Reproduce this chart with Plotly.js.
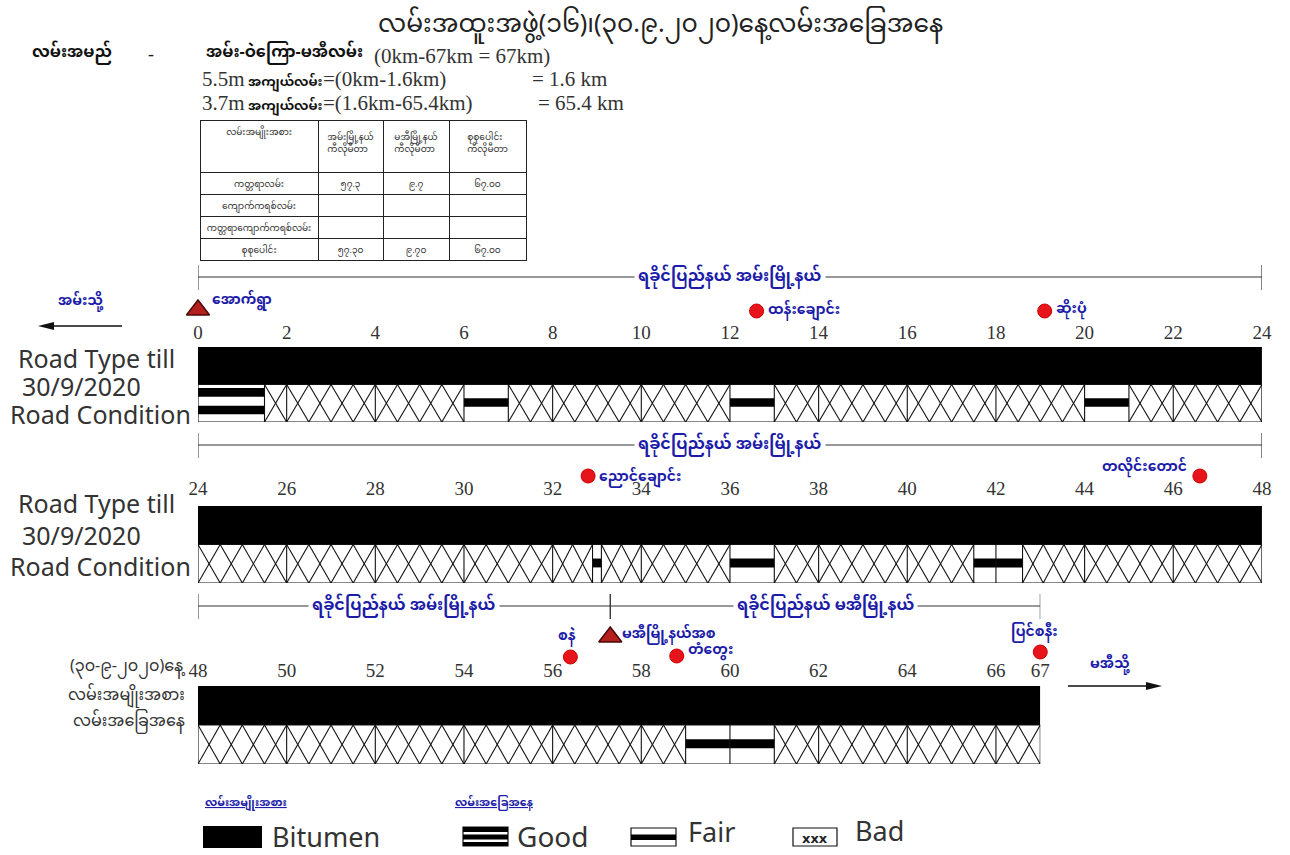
<!DOCTYPE html>
<html><head><meta charset="utf-8">
<script src="https://cdn.plot.ly/plotly-3.0.1.min.js"></script>
<style>html,body{margin:0;padding:0;background:#fff}#chart{width:1290px;height:855px}</style>
</head><body><div id="chart"></div>
<script>
// ---------------- DATA ----------------
const stripFrom = [0, 24, 48];
const stripTo = [24, 48, 67];
const tickKm1 = [0, 2, 4, 6, 8, 10, 12, 14, 16, 18, 20, 22, 24];
const tickKm2 = [24, 26, 28, 30, 32, 34, 36, 38, 40, 42, 44, 46, 48];
const tickKm3 = [48, 50, 52, 54, 56, 58, 60, 62, 64, 66, 67];

const roadTypeName = ['Bitumen'];
const roadTypeFrom = [0];
const roadTypeTo = [67];

const condFrom = [0, 1.5, 6, 7, 12, 13, 20, 21, 32.9, 33.1, 36, 37, 41.5, 42.6, 59, 61];
const condTo   = [1.5, 6, 7, 12, 13, 20, 21, 32.9, 33.1, 36, 37, 41.5, 42.6, 59, 61, 67];
const condType = ['Good','Bad','Fair','Bad','Fair','Bad','Fair','Bad','Fair','Bad','Fair','Bad','Fair','Bad','Fair','Bad'];

const townshipName = ['ရခိုင်ပြည်နယ် အမ်းမြို့နယ်', 'ရခိုင်ပြည်နယ် မအီမြို့နယ်'];
const townshipFrom = [0, 57.3];
const townshipTo = [57.3, 67];

const placeName = ['အောက်ရွာ', 'ထန်းချောင်း', 'ဆိုးပုံ', 'ညောင်ချောင်း', 'တလိုင်းတောင်', 'စနဲ', 'မအီမြို့နယ်အစ', 'တံတွေး', 'ပြင်စနီး'];
const placeKm = [0, 12.6, 19.1, 32.8, 46.6, 56.4, 57.3, 58.8, 67];
const placeKind = ['boundary', 'village', 'village', 'village', 'village', 'village', 'boundary', 'village', 'village'];

const tableHeader = ['လမ်းအမျိုးအစား', 'အမ်းမြို့နယ်<br>ကီလိုမီတာ', 'မအီမြို့နယ်<br>ကီလိုမီတာ', 'စုစုပေါင်း<br>ကီလိုမီတာ'];
const tableRowName = ['ကတ္တရာလမ်း', 'ကျောက်ကရစ်လမ်း', 'ကတ္တရာကျောက်ကရစ်လမ်း', 'စုစုပေါင်း'];
const tableAnn = ['၅၇.၃', '', '', '၅၇.၃၀'];
const tableMaei = ['၉.၇', '', '', '၉.၇၀'];
const tableTotal = ['၆၇.၀၀', '', '', '၆၇.၀၀'];

// ---------------- LAYOUT CONSTANTS ----------------
const W = 1290, H = 855, X0 = 198, PXKM = 44.33;
const geo = [
  {B: 422, U: 37.5, T: 256, head: 277, standoff: 4},
  {B: 583, U: 38.5, T: 428, head: 445, standoff: 7},
  {B: 764, U: 39.0, T: 588, head: 606, standoff: 5}
];
const placeYpx = [310, 311, 311, 476, 476, 657, 637, 656, 652];
const placeLabel = [ // [xshift, yshift, xanchor]
  [12, 10, 'left'], [9, 1, 'left'], [9, 2, 'left'], [9, -1, 'left'], [-11, 9, 'right'],
  [-3, 21, 'center'], [10, 3, 'left'], [9, 6, 'left'], [-6, 20, 'center']
];
const BLUE = '#1c1ca8', RED = '#e8141c';
const MY = 'Noto Sans Myanmar, Padauk, Myanmar Text, Noto Sans, sans-serif';
const tickSets = [tickKm1, tickKm2, tickKm3];

const px = v => v / W;
const py = v => 1 - v / H;

const traces = [];
const annotations = [];
const shapes = [];
const layout = {
  width: W, height: H, margin: {l: 0, r: 0, t: 0, b: 0},
  paper_bgcolor: '#fff', plot_bgcolor: 'rgba(0,0,0,0)',
  showlegend: false, barmode: 'overlay', hovermode: false,
  font: {family: MY, color: '#222'}
};

stripFrom.forEach((s0, i) => {
  const s1 = stripTo[i];
  const g = geo[i];
  const xa = i === 0 ? 'x' : 'x' + (i + 1);
  const ya = i === 0 ? 'y' : 'y' + (i + 1);
  const yOf = p => (g.B - p) / g.U;
  layout[xa.replace('x', 'xaxis')] = {
    domain: [px(X0), px(X0 + (s1 - s0) * PXKM)], range: [s0, s1],
    anchor: 'free', position: py(g.B - 2 * g.U), side: 'top',
    tickmode: 'array', tickvals: tickSets[i], ticktext: tickSets[i].map(String),
    tickfont: {family: 'Liberation Serif, serif', size: 19, color: '#333'}, ticklabelstandoff: g.standoff,
    ticks: '', showgrid: false, zeroline: false, showline: false, fixedrange: true
  };
  layout[ya.replace('y', 'yaxis')] = {
    domain: [py(g.B), py(g.T)], range: [0, (g.B - g.T) / g.U],
    visible: false, fixedrange: true
  };
  const clip = (a, b) => [Math.max(a, s0), Math.min(b, s1)];

  // road type row
  const rb = [], rl = [];
  roadTypeFrom.forEach((f, k) => { const [a, b] = clip(f, roadTypeTo[k]); if (b > a) { rb.push(a); rl.push(b - a); } });
  traces.push({type: 'bar', orientation: 'h', y: rb.map(() => 1.5), x: rl, base: rb, width: rb.map(() => 1),
    marker: {color: '#000', line: {width: 0}}, xaxis: xa, yaxis: ya, hoverinfo: 'skip'});

  // condition bands
  const bandB = [], bandL = [], bandY = [];
  const roadEnd = Math.min(s1, Math.max(...condTo));
  const lx = [], ly = [];
  const seg = (x1, y1, x2, y2) => { lx.push(x1, x2, null); ly.push(y1, y2, null); };
  seg(s0, 0, roadEnd, 0); seg(s0, 1, roadEnd, 1);
  const divs = new Set([s0, roadEnd]);
  for (let k = Math.ceil(s0 / 2) * 2; k <= roadEnd; k += 2) divs.add(k);
  condFrom.forEach((f, k) => {
    const [a, b] = clip(f, condTo[k]);
    if (b <= a) return;
    divs.add(a); divs.add(b);
    if (condType[k] === 'Fair') { bandB.push(a); bandL.push(b - a); bandY.push(0.52); }
    if (condType[k] === 'Good') { [0.79, 0.32].forEach(yy => { bandB.push(a); bandL.push(b - a); bandY.push(yy); }); }
    if (condType[k] === 'Bad') {
      const br = [a];
      for (let e = Math.floor(a / 2) * 2 + 2; e < b; e += 2) if (e > a) br.push(e);
      br.push(b);
      for (let j = 0; j < br.length - 1; j++) {
        const len = br[j + 1] - br[j];
        const n = Math.max(1, Math.round(len / 0.5));
        const w = len / n;
        for (let c = 0; c < n; c++) {
          const c0 = br[j] + c * w, c1 = c0 + w;
          seg(c0, 0, c1, 1); seg(c0, 1, c1, 0);
        }
      }
    }
  });
  divs.forEach(d => seg(d, 0, d, 1));
  traces.push({type: 'bar', orientation: 'h', y: bandY, x: bandL, base: bandB, width: bandY.map(() => 0.23),
    marker: {color: '#000', line: {width: 0}}, xaxis: xa, yaxis: ya, hoverinfo: 'skip'});
  traces.push({type: 'scatter', mode: 'lines', x: lx, y: ly, line: {color: '#111', width: 1.1},
    xaxis: xa, yaxis: ya, hoverinfo: 'skip', connectgaps: false, cliponaxis: false});

  // township header lines
  const hx = [], hy = [];
  const yH = yOf(g.head), tUp = yOf(g.head - 12), tDn = yOf(g.head + 13);
  townshipFrom.forEach((f, k) => {
    const [a, b] = clip(f, townshipTo[k]);
    if (b <= a) return;
    hx.push(a, b, null, a, a, null, b, b, null);
    hy.push(yH, yH, null, tUp, tDn, null, tUp, tDn, null);
    annotations.push({xref: xa, yref: ya, x: (a + b) / 2, y: yH, text: '<b>' + townshipName[k] + '</b>',
      showarrow: false, bgcolor: '#fff', borderpad: 3, font: {family: MY, size: 16, color: BLUE}});
  });
  traces.push({type: 'scatter', mode: 'lines', x: hx, y: hy, line: {color: '#333', width: 1},
    xaxis: xa, yaxis: ya, hoverinfo: 'skip', cliponaxis: false});

  // places
  const vx = [], vy = [], tx = [], ty = [];
  placeKm.forEach((km, k) => {
    if (km < s0 || km > s1 || (km === s0 && i > 0)) return;
    const yy = yOf(placeYpx[k]);
    if (placeKind[k] === 'village') { vx.push(km); vy.push(yy); } else { tx.push(km); ty.push(yy); }
    const [xs, ys, anc] = placeLabel[k];
    annotations.push({xref: xa, yref: ya, x: km, y: yy, xshift: xs, yshift: ys, xanchor: anc,
      text: '<b>' + placeName[k] + '</b>', showarrow: false, font: {family: MY, size: 14, color: BLUE}});
  });
  traces.push({type: 'scatter', mode: 'markers', x: vx, y: vy, xaxis: xa, yaxis: ya, hoverinfo: 'skip', cliponaxis: false,
    marker: {symbol: 'circle', size: 14, color: RED, line: {color: '#c00', width: 1}}});
  traces.push({type: 'scatter', mode: 'markers', x: tx, y: ty, xaxis: xa, yaxis: ya, hoverinfo: 'skip', cliponaxis: false,
    marker: {symbol: 'triangle-up', size: 20, color: '#b3201e', line: {color: '#4a0a0a', width: 1.5}}});
});

// table
traces.push({
  type: 'table', domain: {x: [px(200), px(526)], y: [py(264), py(120)]},
  columnwidth: [118, 65, 66, 77],
  header: {values: tableHeader, height: 52, align: 'center', line: {color: '#222', width: 1},
    fill: {color: '#fff'}, font: {family: MY, size: 9, color: '#333'}},
  cells: {values: [tableRowName, tableAnn, tableMaei, tableTotal], height: 22, align: 'center',
    line: {color: '#222', width: 1}, fill: {color: '#fff'}, font: {family: MY, size: 9, color: '#333'}}
});

// texts
const txt = (x, y, text, opt) => annotations.push(Object.assign({xref: 'paper', yref: 'paper', x: px(x), y: py(y),
  text, showarrow: false, xanchor: 'left', yanchor: 'middle'}, opt || {}));
txt(660, 27, 'လမ်းအထူးအဖွဲ့(၁၆)၊(၃၀.၉.၂၀၂၀)နေ့လမ်းအခြေအနေ', {xanchor: 'center', font: {family: MY, size: 25, color: '#222'}});
txt(30, 53, '<b>လမ်းအမည်</b>', {font: {family: MY, size: 16, color: '#111'}});
txt(146, 54, '-', {font: {family: 'Liberation Serif', size: 18, color: '#222'}});
txt(204, 54, '<b>အမ်း-ဝဲကြော-မအီလမ်း</b>', {font: {family: MY, size: 16, color: '#111'}});
const SER = {family: 'Liberation Serif, serif', size: 21, color: '#333'};
txt(372, 56, '(0km-67km = 67km)', {font: SER});
txt(200, 79, '5.5m', {font: SER});
txt(246, 80, '<b>အကျယ်လမ်း</b>', {font: {family: MY, size: 13, color: '#111'}, yshift: -3});
txt(321, 79, '=(0km-1.6km)', {font: SER});
txt(530, 79, '= 1.6 km', {font: SER});
txt(200, 103, '3.7m', {font: SER});
txt(246, 104, '<b>အကျယ်လမ်း</b>', {font: {family: MY, size: 13, color: '#111'}, yshift: -3});
txt(321, 103, '=(1.6km-65.4km)', {font: SER});
txt(536, 103, '= 65.4 km', {font: SER});

const SANS = {family: 'Noto Sans, Open Sans, sans-serif', size: 25, color: '#333'};
[[358, 386, 414], [503, 535, 566]].forEach(ys => {
  txt(16, ys[0], 'Road Type till', {font: SANS});
  txt(20, ys[1], '30/9/2020', {font: SANS});
  txt(8, ys[2], 'Road Condition', {font: SANS});
});
const MYS = {family: MY, size: 16, color: '#333'};
txt(187, 667, '(၃၀-၉-၂၀၂၀)နေ့', {xanchor: 'right', font: MYS});
txt(187, 696, 'လမ်းအမျိုးအစား', {xanchor: 'right', font: MYS});
txt(187, 722, 'လမ်းအခြေအနေ', {xanchor: 'right', font: MYS});

txt(80, 301, '<b>အမ်းသို့</b>', {xanchor: 'center', font: {family: MY, size: 14, color: BLUE}});
txt(1110, 664, '<b>မအီသို့</b>', {xanchor: 'center', font: {family: MY, size: 14, color: BLUE}});

// arrows
const line = (x0, y0, x1, y1, w) => shapes.push({type: 'line', xref: 'paper', yref: 'paper',
  x0: px(x0), y0: py(y0), x1: px(x1), y1: py(y1), line: {color: '#111', width: w || 1.5}});
const path = (pts) => shapes.push({type: 'path', xref: 'paper', yref: 'paper',
  path: 'M' + pts.map(p => px(p[0]) + ',' + py(p[1])).join('L') + 'Z', fillcolor: '#111', line: {width: 0}});
line(52, 326, 122, 326);
path([[38, 326], [54, 322], [54, 330]]);
line(1068, 686, 1148, 686);
path([[1162, 686], [1146, 682], [1146, 690]]);

// legend
txt(203, 803, '<b><u>လမ်းအမျိုးအစား</u></b>', {font: {family: MY, size: 11, color: BLUE}});
txt(453, 803, '<b><u>လမ်းအခြေအနေ</u></b>', {font: {family: MY, size: 11, color: BLUE}});
const rect = (x0, y0, x1, y1, fill, lw) => shapes.push({type: 'rect', xref: 'paper', yref: 'paper',
  x0: px(x0), y0: py(y0), x1: px(x1), y1: py(y1), fillcolor: fill, line: {color: '#111', width: lw || 0}});
rect(203, 826, 262, 848, '#000');
rect(463, 827, 508, 846, '#fff', 1.2);
rect(463, 827, 508, 832, '#000'); rect(463, 834.5, 508, 839.5, '#000'); rect(463, 842, 508, 846, '#000');
rect(631, 828, 676, 846, '#fff', 1.2);
rect(631, 834.5, 676, 840, '#000');
rect(793, 828, 837, 846, '#fff', 1.2);
txt(815, 838, '<b>xxx</b>', {xanchor: 'center', font: {family: 'DejaVu Sans', size: 13, color: '#222'}});
const LEG = {family: 'Noto Sans, Open Sans, sans-serif', size: 27, color: '#333'};
txt(270, 836, 'Bitumen', {font: LEG});
txt(515, 836, 'Good', {font: Object.assign({}, LEG, {size: 28})});
txt(686, 831, 'Fair', {font: LEG});
txt(853, 830, 'Bad', {font: LEG});

layout.annotations = annotations;
layout.shapes = shapes;
Plotly.newPlot('chart', traces, layout, {displayModeBar: false, staticPlot: true});
</script></body></html>
